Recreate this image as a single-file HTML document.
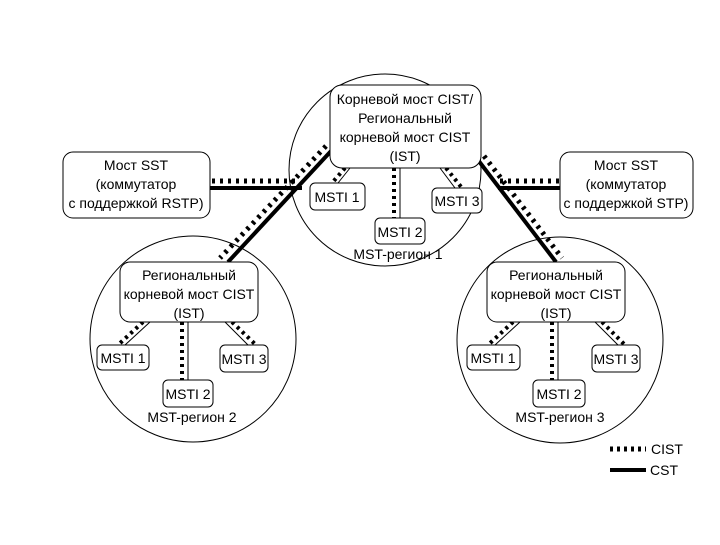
<!DOCTYPE html>
<html><head><meta charset="utf-8"><style>
body{margin:0;background:#fff}
text{font-family:"Liberation Sans",sans-serif;font-size:14px;fill:#000;text-anchor:middle}
</style></head><body>
<svg width="720" height="540" viewBox="0 0 720 540" xmlns="http://www.w3.org/2000/svg">
<g fill="none" stroke="#000" stroke-width="1">
<circle cx="385" cy="170" r="96"/>
<circle cx="193" cy="339" r="103"/>
<circle cx="560" cy="340" r="103"/>
</g>
<!-- links -->
<g stroke="#000" fill="none">
<line x1="210" y1="188" x2="302" y2="188" stroke-width="4"/>
<line x1="212" y1="181" x2="300" y2="181" stroke-width="5" stroke-dasharray="3 5"/>
<line x1="332" y1="150" x2="228" y2="262" stroke-width="4"/>
<line x1="326" y1="146" x2="220" y2="258" stroke-width="5" stroke-dasharray="3 5"/>
<line x1="478" y1="160" x2="556" y2="262" stroke-width="4"/>
<line x1="484" y1="156" x2="562" y2="258" stroke-width="5" stroke-dasharray="3 5"/>
<line x1="498" y1="188" x2="560" y2="188" stroke-width="4"/>
<line x1="500" y1="181" x2="560" y2="181" stroke-width="5" stroke-dasharray="3 5"/>
<!-- inner links -->
<g stroke-width="1">
<line x1="350" y1="168" x2="338" y2="183"/><line x1="400" y1="168" x2="400" y2="218"/><line x1="440" y1="168" x2="455" y2="188"/>
<line x1="150" y1="322" x2="125" y2="345"/><line x1="188" y1="322" x2="188" y2="380"/><line x1="225" y1="322" x2="248" y2="345"/>
<line x1="520" y1="322" x2="495" y2="345"/><line x1="558" y1="322" x2="558" y2="380"/><line x1="595" y1="322" x2="618" y2="345"/>
</g>
<g stroke-width="4" stroke-dasharray="3 4">
<line x1="345" y1="168" x2="332" y2="183"/><line x1="394" y1="168" x2="394" y2="218"/><line x1="446" y1="168" x2="462" y2="188"/>
<line x1="143" y1="322" x2="118" y2="345"/><line x1="182" y1="322" x2="182" y2="380"/><line x1="232" y1="322" x2="256" y2="345"/>
<line x1="513" y1="322" x2="488" y2="345"/><line x1="552" y1="322" x2="552" y2="380"/><line x1="602" y1="322" x2="625" y2="345"/>
</g>
<!-- legend -->
<line x1="610" y1="449" x2="646" y2="449" stroke-width="5" stroke-dasharray="3 4"/>
<line x1="610" y1="470" x2="646" y2="470" stroke-width="4"/>
</g>
<!-- boxes -->
<g fill="#fff" stroke="#000" stroke-width="1">
<rect x="330" y="85" width="151" height="83" rx="12"/>
<rect x="310" y="183" width="55" height="27" rx="5"/>
<rect x="432" y="188" width="50" height="25" rx="5"/>
<rect x="375" y="218" width="50" height="26" rx="5"/>
<rect x="63" y="152" width="147" height="66" rx="10"/>
<rect x="560" y="152" width="133" height="66" rx="10"/>
<rect x="120" y="262" width="138" height="60" rx="10"/>
<rect x="97" y="345" width="52" height="25" rx="5"/>
<rect x="220" y="345" width="48" height="27" rx="5"/>
<rect x="163" y="380" width="50" height="27" rx="5"/>
<rect x="487" y="262" width="138" height="60" rx="10"/>
<rect x="467" y="345" width="53" height="25" rx="5"/>
<rect x="592" y="345" width="48" height="27" rx="5"/>
<rect x="533" y="380" width="52" height="27" rx="5"/>
</g>
<g>
<text x="405" y="104">Корневой мост CIST/</text>
<text x="405" y="123">Региональный</text>
<text x="405" y="142">корневой мост CIST</text>
<text x="405" y="161">(IST)</text>
<text x="337" y="202">MSTI 1</text>
<text x="457" y="206">MSTI 3</text>
<text x="400" y="237">MSTI 2</text>
<text x="398" y="259">MST-регион 1</text>
<text x="136" y="170">Мост SST</text>
<text x="136" y="189">(коммутатор</text>
<text x="136" y="208">с поддержкой RSTP)</text>
<text x="626" y="170">Мост SST</text>
<text x="626" y="189">(коммутатор</text>
<text x="626" y="208">с поддержкой STP)</text>
<text x="189" y="280">Региональный</text>
<text x="189" y="299">корневой мост CIST</text>
<text x="189" y="318">(IST)</text>
<text x="123" y="363">MSTI 1</text>
<text x="244" y="364">MSTI 3</text>
<text x="188" y="399">MSTI 2</text>
<text x="192" y="422">MST-регион 2</text>
<text x="556" y="280">Региональный</text>
<text x="556" y="299">корневой мост CIST</text>
<text x="556" y="318">(IST)</text>
<text x="493" y="363">MSTI 1</text>
<text x="616" y="364">MSTI 3</text>
<text x="559" y="399">MSTI 2</text>
<text x="560" y="422">MST-регион 3</text>
<text x="667" y="454">CIST</text>
<text x="664" y="475">CST</text>
</g>
</svg>
</body></html>
